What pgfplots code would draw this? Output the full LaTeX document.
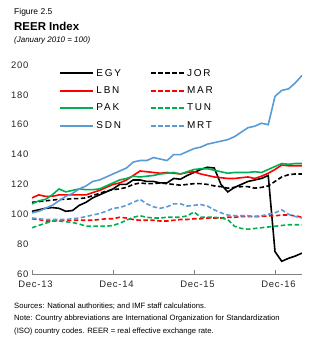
\documentclass[border=0pt]{standalone}
\usepackage{fontspec}
\setmainfont{Liberation Sans}
\usepackage{pgfplots}
\pgfplotsset{compat=1.18}
\usepackage{pgfplotstable}

\definecolor{lbnred}{RGB}{255,0,0}
\definecolor{pakgreen}{RGB}{0,176,80}
\definecolor{sdnblue}{RGB}{91,155,213}

% monthly REER, 0 = Dec-13
\pgfplotstableread{
idx EGY JOR LBN MAR PAK TUN SDN MRT
0 102 108 111 97 107 91 101 97.5
1 103 108.5 113 96.5 109 92.5 102 97
2 104 109 112 95.5 110 94 104 96.5
3 104.5 109.5 112 95.5 113 95.5 106 96.5
4 104 110 113 96 117 95.5 109 96.5
5 102 110 113 96 115 95 112 96.5
6 102.5 110.5 113 96 116 94.5 114 97
7 106 110.5 113 96 117 93.5 117 97.5
8 108 111 113 96 116.5 92 119 98.5
9 111 112.5 114.5 96 116.5 92 122 99.5
10 113 114 116 96.5 117 92 123 100.5
11 115 115.5 118 97 119 92 125 102
12 117 116.5 120 97 121 92.5 127 104
13 120 117 121 98 123 94 129 104.5
14 120 118 123 97.5 124 96 131 106
15 123 120 126 96.5 125.5 98 135 108
16 123 121 129 96 125 99 136 110
17 122 120.5 128.5 96 125.5 98 136 107
18 122 120.5 128 96 126 97.5 138 105
19 121 121 127.5 95.5 127 97.5 137 104
20 121 120.5 128 95.5 127.5 98 136 105
21 124 120 127.5 96 128 98 140 107
22 123.5 119.5 127 96.5 127 98 140 107
23 126 120 128 96.5 128.5 99 142 105.5
24 128 120.5 128.5 97 130 101.5 144 106
25 130 120.5 127 97 130.5 98 145 106.5
26 131.5 120 126 97.5 130.5 98 147 105.5
27 131 119 125 97.5 129.5 98 148 103
28 120 118.5 124.5 97.5 128.5 97.5 149 101
29 115 117.5 124 98 127.5 96.5 150 99.5
30 118 118 124 98 128 92 152 99
31 120 118.5 124.5 98.5 128 90.5 155 99
32 122 118.5 125 98.5 128 90 158 99
33 123 117.5 124 98.5 128.5 90.5 159 98.5
34 124 118 125.5 98.5 128 91 161 99
35 126 119 127.5 99 130 91.5 160 100
36 75 122 130 99 132 92 179 101
37 68.5 125 133 99.5 134 92.5 183 103
38 70.5 126.5 132.5 99.5 133.5 93 184 100
39 72 127 132.5 99 134 93 188 98.5
40 74 127 132.5 98 134 93 193 97.5
}\reer

\begin{document}
\begin{tikzpicture}[x=1bp,y=1bp]
\path[use as bounding box] (-32,-66) rectangle (295,274);

% heading
\node[anchor=base west, inner sep=0pt, font=\fontsize{8.5}{10}\selectfont] at (-18,260) {Figure 2.5};
\node[anchor=base west, inner sep=0pt, font=\fontsize{11.5}{13}\selectfont\bfseries] at (-18,244) {REER Index};
\node[anchor=base west, inner sep=0pt, font=\fontsize{8}{10}\selectfont\itshape] at (-18,232) {(January 2010 = 100)};

% notes
\node[anchor=base west, inner sep=0pt, font=\fontsize{7.7}{9}\selectfont] at (-18,-34) {Sources: National authorities; and IMF staff calculations.};
\node[anchor=base west, inner sep=0pt, font=\fontsize{7.7}{9}\selectfont] at (-18,-46) {Note: Country abbreviations are International Organization for Standardization};
\node[anchor=base west, inner sep=0pt, font=\fontsize{7.7}{9}\selectfont] at (-18,-59) {(ISO) country codes. REER = real effective exchange rate.};

\begin{axis}[
    at={(0,0)}, anchor=south west,
    scale only axis,
    width=270bp, height=209bp,
    xmin=0, xmax=40,
    ymin=60, ymax=200,
    ytick={60,80,...,200},
    xtick={0,12,24,36},
    xticklabels={Dec-13,Dec-14,Dec-15,Dec-16},
    axis x line*=bottom,
    axis y line*=left,
    y axis line style={draw=none},
    x axis line style={draw=gray, line width=0.8bp},
    ytick style={draw=none},
    xtick style={draw=gray, line width=0.8bp},
    tick align=inside,
    major tick length=4bp,
    ticklabel style={font=\fontsize{9.5}{11}\selectfont\addfontfeature{LetterSpace=8}, text=black!85},
    xticklabel style={xshift=3.5bp, yshift=-3bp},
    /pgf/number format/assume math mode=true,
    legend columns=2,
    legend cell align=left,
    legend style={draw=none, fill=none, at={(0.09,1.0)}, anchor=north west,
        font=\fontsize{10}{12}\selectfont\addfontfeature{LetterSpace=18}, row sep=5bp,
        /tikz/every even column/.append style={column sep=27bp}},
    legend image code/.code={\draw[#1, line width=2bp] (0bp,0bp) -- (33bp,0bp);},
]
\addplot[black, line width=1.6bp, no marks] table[x=idx, y=EGY] {\reer};
\addplot[black, line width=1.6bp, no marks, dash pattern=on 4.5bp off 2.5bp] table[x=idx, y=JOR] {\reer};
\addplot[lbnred, line width=1.6bp, no marks] table[x=idx, y=LBN] {\reer};
\addplot[lbnred, line width=1.6bp, no marks, dash pattern=on 4.5bp off 2.5bp] table[x=idx, y=MAR] {\reer};
\addplot[pakgreen, line width=1.6bp, no marks] table[x=idx, y=PAK] {\reer};
\addplot[pakgreen, line width=1.6bp, no marks, dash pattern=on 4.5bp off 2.5bp] table[x=idx, y=TUN] {\reer};
\addplot[sdnblue, line width=1.6bp, no marks] table[x=idx, y=SDN] {\reer};
\addplot[sdnblue, line width=1.6bp, no marks, dash pattern=on 4.5bp off 2.5bp] table[x=idx, y=MRT] {\reer};
\legend{EGY, JOR, LBN, MAR, PAK, TUN, SDN, MRT}
\end{axis}
\end{tikzpicture}
\end{document}
